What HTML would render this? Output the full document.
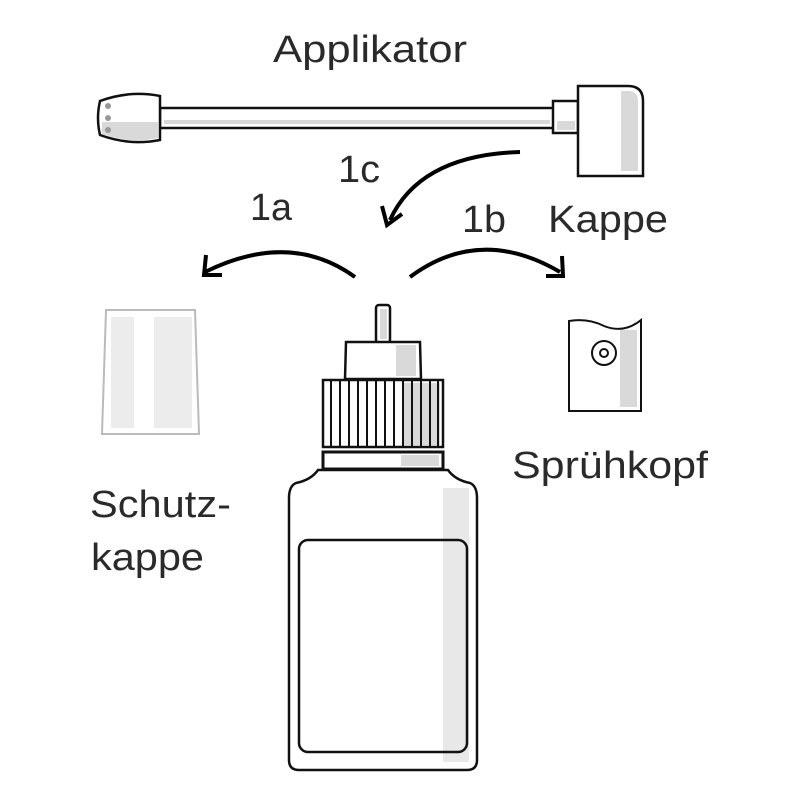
<!DOCTYPE html>
<html><head><meta charset="utf-8"><style>html,body{margin:0;padding:0;background:#fff}svg{display:block}</style></head>
<body>
<svg width="800" height="800" viewBox="0 0 800 800" xmlns="http://www.w3.org/2000/svg" font-family="Liberation Sans, sans-serif" fill="#2a2a2a">
<g font-size="38">
<text x="273" y="62" textLength="194" lengthAdjust="spacingAndGlyphs">Applikator</text>
<text x="338" y="182" textLength="42" lengthAdjust="spacingAndGlyphs">1c</text>
<text x="250" y="220" textLength="42" lengthAdjust="spacingAndGlyphs">1a</text>
<text x="462" y="232" textLength="44" lengthAdjust="spacingAndGlyphs">1b</text>
<text x="548" y="232" textLength="120" lengthAdjust="spacingAndGlyphs">Kappe</text>
<text x="90" y="517" textLength="141" lengthAdjust="spacingAndGlyphs">Schutz-</text>
<text x="91" y="570" textLength="113" lengthAdjust="spacingAndGlyphs">kappe</text>
<text x="512" y="478" textLength="196" lengthAdjust="spacingAndGlyphs">Sprühkopf</text>
</g>
<!-- Applicator -->
<g stroke="#111" stroke-width="2.5" fill="#fff">
<rect x="160" y="108" width="395" height="20"/>
<path d="M100 101 Q130 90 160 96 L160 140 Q130 146 100 135 Q96 118 100 101 Z"/>
<rect x="553" y="101" width="25" height="32"/>
<path d="M578 86 L628 86 Q643 86 643 101 L643 176 L578 176 Z"/>
</g>
<g fill="#d9d9d9">
<rect x="164" y="120" width="386" height="4"/>
<path d="M102 122 L158 122 L158 138 Q130 144 102 134 Z"/>
<circle cx="108" cy="106" r="3" fill="#999"/><circle cx="108" cy="118" r="3" fill="#999"/><circle cx="108" cy="130" r="3" fill="#999"/>
<rect x="557" y="121" width="18" height="9"/>
<path d="M621 91 L630 91 Q638 92 638 101 L638 171 L621 171 Z"/>
</g>
<!-- arrows -->
<g stroke="#000" stroke-width="4" fill="none">
<path d="M520 152 Q420 155 390 220"/>
<path d="M382 206 L387 225 L402 214"/>
<path d="M355 277 Q290 230 205 272"/>
<path d="M206 255 L204 275 L222 275"/>
<path d="M410 277 Q480 225 560 272"/>
<path d="M562 256 L563 276 L546 276"/>
</g>
<!-- Schutzkappe -->
<path d="M106 310 L195 310 L199 434 L102 434 Z" fill="#fff" stroke="#bbb" stroke-width="2"/>
<rect x="111" y="317" width="23" height="111" fill="#ececec"/>
<rect x="154" y="317" width="38" height="111" fill="#ececec"/>
<!-- Sprühkopf -->
<path d="M569 321 Q588 318 604 326 Q624 334 641 320 L641 411 L569 411 Z" fill="#fff" stroke="#111" stroke-width="2"/>
<rect x="620" y="330" width="17" height="77" fill="#d9d9d9"/>
<circle cx="604" cy="353" r="12" fill="none" stroke="#111" stroke-width="2"/>
<circle cx="604" cy="353" r="4" fill="none" stroke="#111" stroke-width="2"/>
<!-- Bottle -->
<g stroke="#111" stroke-width="2.5" fill="#fff">
<rect x="376" y="305" width="14" height="38" rx="3"/>
<path d="M346 342 L420 342 L421 379 L345 379 Z"/>
<path d="M318 470 L448 470 Q455 480 470 483 Q477 486 477 498 L477 760 Q477 770 467 770 L299 770 Q289 770 289 760 L289 498 Q289 486 296 483 Q311 480 318 470 Z"/>
</g>
<rect x="396" y="345" width="20" height="31" fill="#d9d9d9"/>
<rect x="380" y="309" width="7" height="30" fill="#d9d9d9"/>
<rect x="443" y="488" width="26" height="274" fill="#e8e8e8"/>
<rect x="299" y="540" width="168" height="212" rx="9" fill="none" stroke="#111" stroke-width="2.5"/>
<!-- knurled cap -->
<rect x="323" y="380" width="120" height="67" fill="#fff" stroke="#111" stroke-width="2.5"/>
<rect x="402" y="383" width="38" height="62" fill="#d9d9d9"/>
<g stroke="#111" stroke-width="2">
<line x1="331" y1="380" x2="331" y2="447"/><line x1="340" y1="380" x2="340" y2="447"/><line x1="349" y1="380" x2="349" y2="447"/><line x1="358" y1="380" x2="358" y2="447"/><line x1="367" y1="380" x2="367" y2="447"/><line x1="376" y1="380" x2="376" y2="447"/><line x1="385" y1="380" x2="385" y2="447"/><line x1="394" y1="380" x2="394" y2="447"/><line x1="403" y1="380" x2="403" y2="447"/><line x1="412" y1="380" x2="412" y2="447"/><line x1="421" y1="380" x2="421" y2="447"/><line x1="430" y1="380" x2="430" y2="447"/><line x1="438" y1="380" x2="438" y2="447"/>
</g>
<rect x="323" y="452" width="120" height="17" fill="#fff" stroke="#111" stroke-width="3"/>
<rect x="401" y="455" width="38" height="11" fill="#d9d9d9"/>
</svg>
</body></html>
